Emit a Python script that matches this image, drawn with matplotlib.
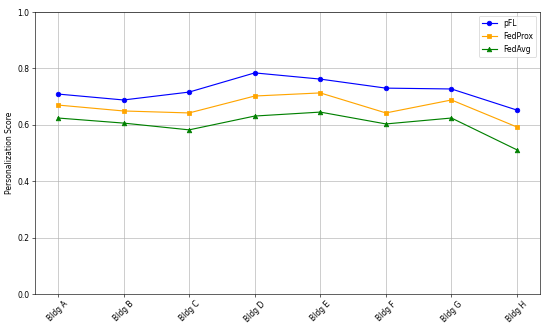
import numpy as np
import matplotlib.pyplot as plt

# Buildings and personalization scores per method
buildings = ["Bldg A", "Bldg B", "Bldg C", "Bldg D", "Bldg E", "Bldg F", "Bldg G", "Bldg H"]
pfl = [0.709, 0.688, 0.716, 0.784, 0.762, 0.730, 0.727, 0.652]
fedprox = [0.670, 0.649, 0.642, 0.702, 0.713, 0.642, 0.688, 0.592]
fedavg = [0.624, 0.606, 0.582, 0.631, 0.645, 0.603, 0.624, 0.511]

x = np.arange(len(buildings))

fig = plt.figure(figsize=(10, 5.964), dpi=55)
ax = fig.add_axes([35 / 550, 1 - 294 / 328, 505 / 550, 282 / 328])

ax.plot(x, pfl, marker="o", color="blue", label="pFL")
ax.plot(x, fedprox, marker="s", color="orange", label="FedProx")
ax.plot(x, fedavg, marker="^", color="green", label="FedAvg")

ax.set_xticks(x)
ax.set_xticklabels(buildings, rotation=45)
ax.set_ylim(0, 1.0)
ax.set_ylabel("Personalization Score")
ax.legend(loc="upper right")
ax.grid(True)

fig.savefig("out.png", dpi=55)
